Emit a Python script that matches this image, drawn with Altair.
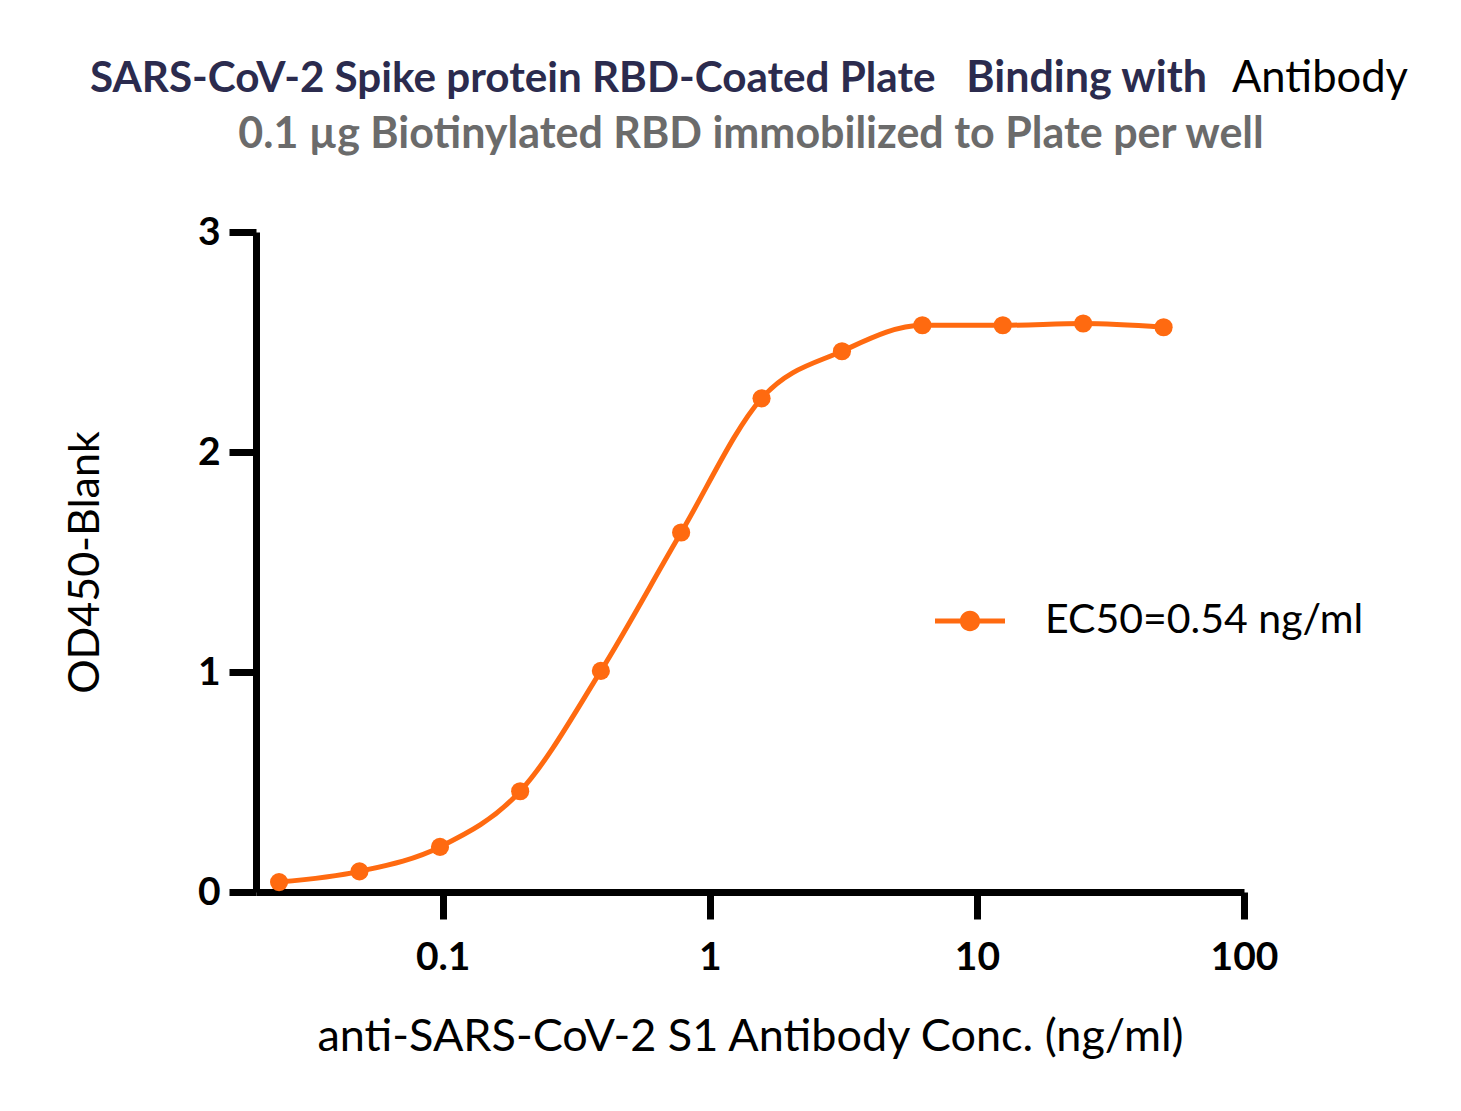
import altair as alt
import pandas as pd

# ---- data ----
conc = [0.0244, 0.0488, 0.0977, 0.195, 0.391, 0.781, 1.5625, 3.125, 6.25, 12.5, 25, 50]
od = [0.045, 0.094, 0.205, 0.458, 1.005, 1.634, 2.244, 2.458, 2.576, 2.576, 2.584, 2.567]
series_name = ["EC50=0.54 ng/ml"]
x_ticks = [0.1, 1, 10, 100]
y_ticks = [0, 1, 2, 3]
title_part1 = ["SARS-CoV-2 Spike protein RBD-Coated Plate"]
title_part2 = ["Binding with"]
title_part3 = ["Antibody"]
subtitle = ["0.1 µg Biotinylated RBD immobilized to Plate per well"]
x_title = "anti-SARS-CoV-2 S1 Antibody Conc. (ng/ml)"
y_title = "OD450-Blank"

ORANGE = "#FF6A10"
FONT = "Lato"

df = pd.DataFrame({"conc": conc, "od": od, "series": series_name * len(conc)})

W, H = 988, 660

xenc = alt.X(
    "conc:Q",
    scale=alt.Scale(type="log", domain=[0.02, 100], nice=False),
    axis=alt.Axis(
        values=x_ticks, format="~g", title=x_title,
        titleBaseline="alphabetic", titleY=158, titleFontWeight="normal",
        titleFontSize=45, labelFontSize=39, labelFontWeight="bold",
        tickSize=27, labelPadding=19, labelFlush=False, labelOverlap=False,
    ),
)
yenc = alt.Y(
    "od:Q",
    scale=alt.Scale(domain=[0, 3], nice=False),
    axis=alt.Axis(
        values=y_ticks, title=y_title, titleFontWeight="normal",
        titleFontSize=43, titleBaseline="alphabetic", titleX=-158,
        labelFontSize=39, labelFontWeight="bold", tickSize=27, labelPadding=9,
        labelFlush=False,
    ),
)

sym_path = ("M-1,-0.072L1,-0.072L1,0.072L-1,0.072Z "
            "M0.29,0A0.29,0.29,0,1,1,-0.29,0A0.29,0.29,0,1,1,0.29,0Z")

color = alt.Color(
    "series:N",
    scale=alt.Scale(domain=series_name, range=[ORANGE]),
    legend=alt.Legend(
        orient="none", legendX=679, legendY=354, title=None,
        symbolType=sym_path, symbolSize=4900, symbolStrokeWidth=0,
        labelFontSize=41, labelFont=FONT, labelColor="black",
        labelOffset=40, padding=0, labelLimit=700,
    ),
)

line = alt.Chart(df).mark_line(
    color=ORANGE, strokeWidth=5, interpolate="monotone"
).encode(x=xenc, y=yenc)

pts = alt.Chart(df).mark_point(filled=True, size=330, opacity=1).encode(
    x=xenc, y=yenc, color=color
)

one = pd.DataFrame({"k": [0]})
NAVY = "#2B2B4E"
t1 = alt.Chart(one).mark_text(
    text=title_part1[0], font=FONT, fontSize=42.2, fontWeight="bold",
    color=NAVY, align="left", baseline="alphabetic",
).encode(x=alt.value(-166), y=alt.value(-140))
t2 = alt.Chart(one).mark_text(
    text=title_part2[0], font=FONT, fontSize=43, fontWeight="bold",
    color=NAVY, align="right", baseline="alphabetic",
).encode(x=alt.value(951), y=alt.value(-140))
t3 = alt.Chart(one).mark_text(
    text=title_part3[0], font=FONT, fontSize=43.5, fontWeight="normal",
    color="black", align="left", baseline="alphabetic",
).encode(x=alt.value(976), y=alt.value(-140))
t4 = alt.Chart(one).mark_text(
    text=subtitle[0], font=FONT, fontSize=43, fontWeight="bold",
    color="#6B6B6B", align="center", baseline="alphabetic",
).encode(x=alt.value(495), y=alt.value(-84))

chart = (
    alt.layer(line, pts, t1, t2, t3, t4)
    .properties(
        width=W, height=H,
        autosize=alt.AutoSizeParams(type="none"),
        padding={"left": 248, "top": 224, "right": 200, "bottom": 200},
    )
    .configure_view(stroke=None)
    .configure_axis(
        grid=False, domainColor="black", domainWidth=7, tickColor="black",
        tickWidth=7, labelColor="black", titleColor="black",
        labelFont=FONT, titleFont=FONT,
    )
)

chart.save("out.html", embed_options={"renderer": "svg", "actions": False})
